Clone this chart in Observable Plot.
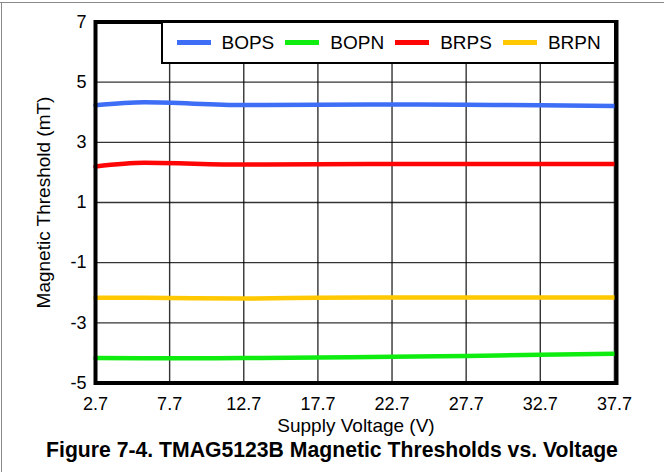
<!DOCTYPE html>
<html>
<head>
<meta charset="utf-8">
<script src="https://cdn.jsdelivr.net/npm/d3@7"></script>
<script src="https://cdn.jsdelivr.net/npm/@observablehq/plot@0.6"></script>
<style>
  html, body { margin: 0; padding: 0; background: #fff; }
  #wrap { position: relative; width: 664px; height: 472px; overflow: hidden; font-family: "Liberation Sans", Arial, Helvetica, sans-serif; }
  #chart { position: absolute; left: 0; top: 0; }
  #chart svg g[aria-label="x-axis label"] text, #chart svg g[aria-label="y-axis label"] text { font-size: 19px; }
  #topline { position: absolute; left: 0; top: 2px; width: 664px; height: 0; border-top: 1.5px solid #8a8a8a; }
  #leftline { position: absolute; left: 1px; top: 2px; width: 0; height: 470px; border-left: 1.5px solid #8a8a8a; }
  #legend { position: absolute; left: 160.5px; top: 21px; width: 455px; height: 43px; box-sizing: border-box;
            background: #fff; border: 2.5px solid #000; border-top-width: 2px; border-right-width: 2px;
            display: flex; align-items: center; padding-left: 14px; font-size: 19px; color: #000; }
  .item { display: flex; align-items: center; margin-right: 11px; }
  .sw { width: 34px; height: 4.5px; margin-right: 11px; }
  #caption { position: absolute; left: 0; top: 440px; width: 664px; text-align: center; font-weight: bold;
             font-size: 21.2px; line-height: 20px; color: #000; }
</style>
</head>
<body>
<div id="wrap">
  <div id="chart"></div>
  <div id="legend"></div>
  <div id="topline"></div>
  <div id="leftline"></div>
  <div id="caption"></div>
</div>
<script>
// ---- data ----
const voltage = [2.7, 6, 12.7, 17.7, 22.7, 27.7, 32.7, 37.7];
const bops = [4.23, 4.33, 4.24, 4.25, 4.26, 4.25, 4.23, 4.21];
const bopn = [-4.17, -4.18, -4.17, -4.15, -4.13, -4.10, -4.06, -4.03];
const brps = [2.20, 2.32, 2.26, 2.27, 2.28, 2.28, 2.28, 2.28];
const brpn = [-2.17, -2.17, -2.19, -2.17, -2.16, -2.16, -2.16, -2.16];
const seriesNames = ["BOPS", "BOPN", "BRPS", "BRPN"];
const seriesColors = ["#3d6ef5", "#0fec0f", "#ff0505", "#ffc800"];
const xTicks = [2.7, 7.7, 12.7, 17.7, 22.7, 27.7, 32.7, 37.7];
const yTicks = [-5, -3, -1, 1, 3, 5, 7];
const xTitle = "Supply Voltage (V)";
const yTitle = "Magnetic Threshold (mT)";
const captionText = "Figure 7-4. TMAG5123B Magnetic Thresholds vs. Voltage";

const seriesValues = [bops, bopn, brps, brpn];
const rows = [];
seriesNames.forEach((name, i) => {
  voltage.forEach((v, j) => rows.push({v, t: seriesValues[i][j], s: name}));
});

const gridStyle = {stroke: "#000", strokeOpacity: 0.8, strokeWidth: 1.4};

const chart = Plot.plot({
  width: 664,
  height: 440,
  marginLeft: 95,
  marginRight: 48,
  marginTop: 21.5,
  marginBottom: 57.5,
  style: {fontFamily: "'Liberation Sans', Arial, Helvetica, sans-serif", fontSize: "18px", color: "#000", background: "transparent"},
  x: {domain: [2.7, 37.84], ticks: xTicks, tickFormat: d => d.toFixed(1), tickSize: 0, tickPadding: 14,
      label: xTitle, labelAnchor: "center", labelOffset: 49, labelArrow: "none"},
  y: {domain: [-5, 7], ticks: yTicks, tickFormat: d => String(d), tickSize: 0, tickPadding: 9,
      label: yTitle, labelAnchor: "center", labelOffset: 59, labelArrow: "none"},
  color: {domain: seriesNames, range: seriesColors},
  marks: [
    Plot.gridX(xTicks.slice(1), gridStyle),
    Plot.gridY(yTicks.slice(1, -1), gridStyle),
    Plot.line(rows, {x: "v", y: "t", z: "s", stroke: "s", strokeWidth: 4.5, curve: "monotone-x"}),
    Plot.frame({stroke: "#000", strokeWidth: 4})
  ]
});
document.getElementById("chart").appendChild(chart);

// legend
const legend = document.getElementById("legend");
seriesNames.forEach((name, i) => {
  const item = document.createElement("div");
  item.className = "item";
  const sw = document.createElement("span");
  sw.className = "sw";
  sw.style.background = seriesColors[i];
  const lab = document.createElement("span");
  lab.textContent = name;
  item.appendChild(sw);
  item.appendChild(lab);
  legend.appendChild(item);
});
document.getElementById("caption").textContent = captionText;
</script>
</body>
</html>
